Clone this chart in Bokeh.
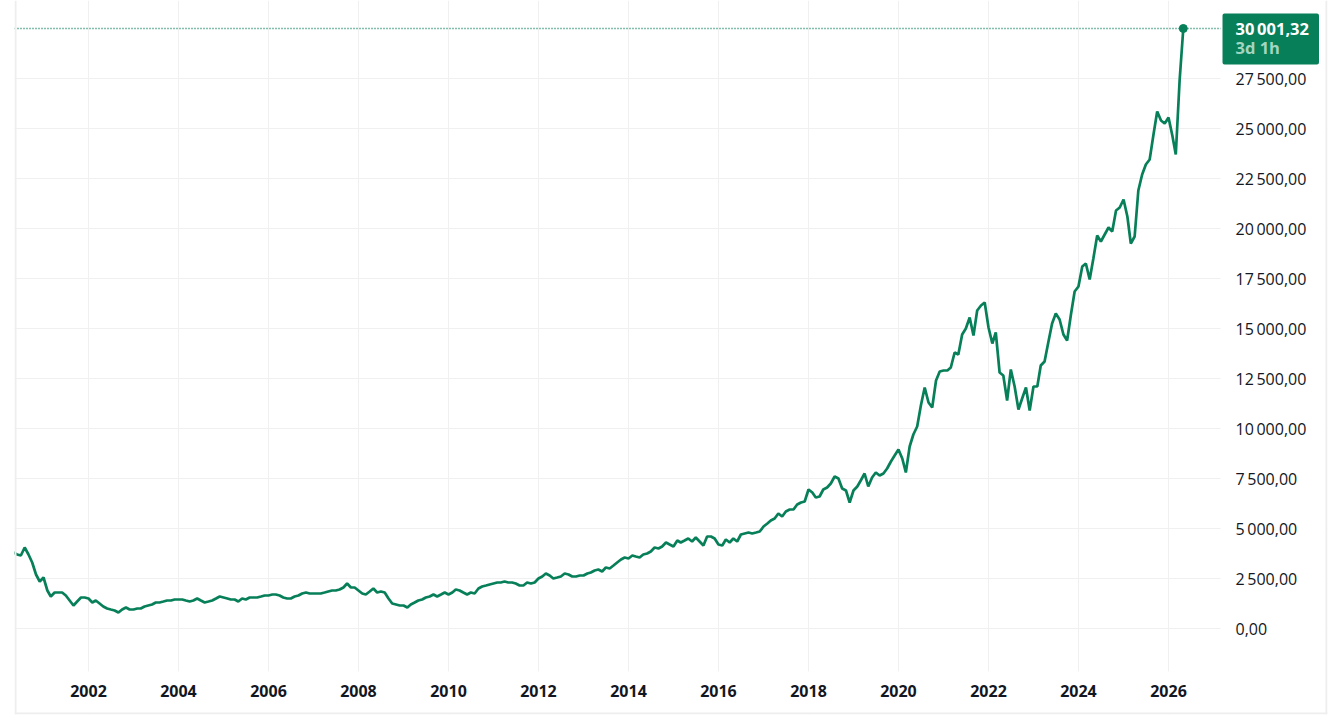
import pandas as pd
from bokeh.plotting import figure
from bokeh.models import FixedTicker, DatetimeTickFormatter, Range1d, Span, Label, BoxAnnotation
from bokeh.embed import file_html
from bokeh.resources import INLINE

# ---- data (monthly closes) ----
start_month = "2000-05-01"
values = [
    3800, 3700, 3650, 4050, 3700, 3300, 2700, 2350, 2550, 1900, 1600, 1800,
    1800, 1800, 1650, 1400, 1150, 1350, 1550, 1550, 1500, 1300, 1400, 1250,
    1100, 1000, 950, 900, 800, 950, 1050, 950, 950, 1000, 1000, 1100,
    1150, 1200, 1300, 1300, 1350, 1400, 1400, 1450, 1450, 1450, 1400, 1350,
    1400, 1500, 1400, 1300, 1350, 1400, 1500, 1600, 1550, 1500, 1450, 1450,
    1350, 1500, 1450, 1550, 1550, 1550, 1600, 1650, 1650, 1700, 1700, 1650,
    1550, 1500, 1500, 1600, 1650, 1750, 1800, 1750, 1750, 1750, 1750, 1800,
    1850, 1900, 1900, 1950, 2050, 2250, 2050, 2050, 1900, 1750, 1700, 1850,
    2000, 1800, 1850, 1800, 1500, 1250, 1200, 1150, 1150, 1050, 1200, 1300,
    1400, 1450, 1550, 1600, 1700, 1600, 1700, 1800, 1700, 1800, 1950, 1900,
    1800, 1700, 1800, 1750, 2000, 2100, 2150, 2200, 2250, 2300, 2300, 2350,
    2300, 2300, 2250, 2150, 2150, 2300, 2250, 2300, 2500, 2600, 2750, 2650,
    2500, 2550, 2600, 2750, 2700, 2600, 2600, 2650, 2650, 2750, 2800, 2900,
    2950, 2850, 3050, 3000, 3150, 3300, 3450, 3550, 3500, 3650, 3600, 3550,
    3700, 3750, 3850, 4050, 4000, 4100, 4300, 4200, 4100, 4400, 4300, 4400,
    4500, 4350, 4550, 4350, 4150, 4600, 4600, 4500, 4200, 4150, 4450, 4300,
    4500, 4350, 4700, 4750, 4800, 4750, 4800, 4850, 5100, 5250, 5400, 5500,
    5750, 5600, 5850, 5950, 5950, 6200, 6300, 6350, 6950, 6800, 6550, 6600,
    6950, 7050, 7250, 7600, 7500, 7000, 6900, 6300, 6900, 7100, 7400, 7750,
    7100, 7550, 7800, 7650, 7750, 8000, 8350, 8650, 8950, 8500, 7800, 9100,
    9700, 10100, 11150, 12050, 11300, 11050, 12400, 12850, 12900, 12900, 13050, 13800,
    13700, 14700, 15000, 15550, 14650, 15900, 16150, 16300, 15050, 14250, 14800, 12800,
    12650, 11400, 12950, 12100, 10950, 11500, 12050, 10900, 12100, 12100, 13150, 13350,
    14300, 15250, 15750, 15450, 14700, 14400, 15700, 16850, 17100, 18100, 18250, 17450,
    18500, 19650, 19350, 19700, 20050, 19850, 20900, 21050, 21450, 20600, 19250, 19600,
    21900, 22700, 23200, 23450, 24700, 25850, 25400, 25250, 25550, 24650, 23700, 27400,
    30001.32,
]
last_value_label = "30\u2009001,32"
last_time_label = "3d 1h"

x_tick_years = [2002, 2004, 2006, 2008, 2010, 2012, 2014, 2016, 2018, 2020, 2022, 2024, 2026]
y_ticks = [0, 2500, 5000, 7500, 10000, 12500, 15000, 17500, 20000, 22500, 25000, 27500]
y_tick_labels = ["0,00", "2\u2009500,00", "5\u2009000,00", "7\u2009500,00", "10\u2009000,00",
                 "12\u2009500,00", "15\u2009000,00", "17\u2009500,00", "20\u2009000,00",
                 "22\u2009500,00", "25\u2009000,00", "27\u2009500,00"]

dates = pd.date_range(start_month, periods=len(values), freq="MS")

GREEN = "#077f58"
FONT = "Open Sans"
BORDER = "#eeeeee"

# ---- layout geometry (45 px per year, 0.02 px per unit) ----
YEAR_MS = 365.2425 * 86400000
anchor = pd.Timestamp("2002-01-01").value / 1e6
def xpx(px):            # screen px -> datetime ms
    return anchor + (px - 88) / 45 * YEAR_MS
def ypx(py):            # screen px -> value
    return (628 - py) * 50

x_start, x_end = xpx(14), xpx(1327)
y_top, y_bottom = ypx(0), ypx(714)
plot_right = xpx(1220)
plot_bottom = ypx(671)

p = figure(width=1330, height=716, x_axis_type="datetime", y_axis_location="right",
           output_backend="svg", toolbar_location=None,
           x_range=Range1d(x_start, x_end), y_range=Range1d(y_bottom, y_top),
           min_border_left=14, min_border_top=0, min_border_right=3, min_border_bottom=2)
p.outline_line_color = None
p.background_fill_color = "white"
p.border_fill_color = "white"

x_ticks_ms = [pd.Timestamp(f"{y}-01-01").value / 1e6 for y in x_tick_years]
p.xaxis.ticker = FixedTicker(ticks=x_ticks_ms)
p.xgrid.ticker = FixedTicker(ticks=x_ticks_ms)
p.xaxis.formatter = DatetimeTickFormatter(years="%Y", months="%Y", days="%Y", hours="%Y",
                                          minutes="%Y", seconds="%Y", milliseconds="%Y")
p.yaxis.ticker = FixedTicker(ticks=y_ticks)
p.ygrid.ticker = FixedTicker(ticks=y_ticks)
p.yaxis.major_label_overrides = dict(zip(y_ticks, y_tick_labels))

for ax in (p.xaxis, p.yaxis):
    ax.axis_line_color = None
    ax.major_tick_line_color = None
    ax.minor_tick_line_color = None
    ax.major_tick_out = 0
    ax.major_tick_in = 0
    ax.minor_tick_out = 0
    ax.major_label_text_font = FONT
    ax.major_label_text_font_size = "16px"
    ax.major_label_text_color = "#131722"
p.xaxis.major_label_text_font_style = "bold"
p.xaxis.major_label_standoff = -30
p.yaxis.major_label_standoff = -92

p.xgrid.grid_line_color = "#f0f0f0"
p.ygrid.grid_line_color = "#f0f0f0"

# dotted last-price line (hidden under the right mask past the plot area)
p.add_layout(Span(location=values[-1], dimension="width", line_color=GREEN,
                  line_width=1.5, line_dash="1 2", level="glyph"))

# white masks over the axis-label areas (grid stops at the plot area)
p.add_layout(BoxAnnotation(left=plot_right, fill_color="white", fill_alpha=1,
                           line_color=None, level="glyph"))
p.add_layout(BoxAnnotation(top=plot_bottom, fill_color="white", fill_alpha=1,
                           line_color=None, level="glyph"))

# container border
p.add_layout(Span(location=xpx(15), dimension="height", line_color=BORDER, line_width=2))
p.add_layout(Span(location=xpx(1326), dimension="height", line_color=BORDER, line_width=2))
p.add_layout(Span(location=ypx(713), dimension="width", line_color=BORDER, line_width=2))

p.line(dates, values, line_color=GREEN, line_width=2.7)
p.scatter([dates[-1]], [values[-1]], size=8, color=GREEN)

# price tag on the right axis
p.add_layout(Label(x=plot_right, y=values[-1], x_offset=2, y_offset=-10.5,
                   text=last_value_label,
                   text_font=FONT, text_font_size="16.5px", text_font_style="bold",
                   text_color="white", text_baseline="middle",
                   background_fill_color=GREEN, padding=(13, 10, 4, 24), border_radius=2))
p.add_layout(Label(x=plot_right, y=values[-1], x_offset=15, y_offset=-19, text=last_time_label,
                   text_font=FONT, text_font_size="16.5px", text_font_style="bold",
                   text_color="#a3d6c1", text_baseline="middle"))

open("out.html", "w").write(file_html(p, INLINE))
